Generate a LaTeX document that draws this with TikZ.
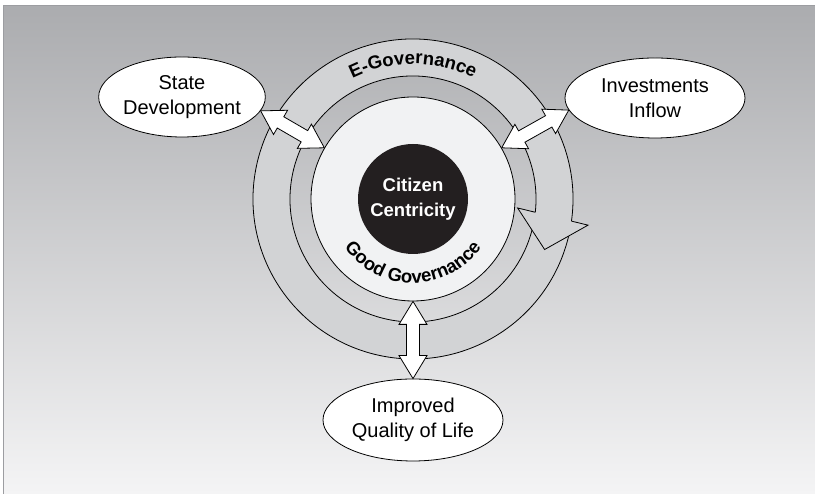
\documentclass[tikz,border=0pt]{standalone}
\usepackage{fontspec}
\setmainfont{Liberation Sans}
\usetikzlibrary{positioning,calc,shapes.geometric,decorations.text}

\definecolor{paneltop}{HTML}{ABACAF}
\definecolor{panelbot}{HTML}{F4F4F5}
\definecolor{paneledge}{HTML}{9C9DA1}
\definecolor{ringgray}{HTML}{D2D3D5}
\definecolor{hubgray}{HTML}{F1F2F3}
\definecolor{coreblack}{HTML}{231F20}

\newcommand{\ringtext}{\bfseries\fontsize{18.5}{20}\selectfont}

% white block arrow with a head at both ends
\newcommand{\twoway}[2]{%
  \filldraw[twoway]
    (#1) -- ($(#1)!23pt!(#2)!14pt!90:(#2)$) -- ($(#1)!23pt!(#2)!6.5pt!90:(#2)$)
    -- ($(#2)!23pt!(#1)!6.5pt!-90:(#1)$) -- ($(#2)!23pt!(#1)!14pt!-90:(#1)$)
    -- (#2) -- ($(#2)!23pt!(#1)!14pt!90:(#1)$) -- ($(#2)!23pt!(#1)!6.5pt!90:(#1)$)
    -- ($(#1)!23pt!(#2)!6.5pt!-90:(#2)$) -- ($(#1)!23pt!(#2)!14pt!-90:(#2)$) -- cycle;}

\tikzset{
  oval/.style={ellipse, draw, fill=white, line width=.8pt, inner sep=0pt,
               align=center, font=\fontsize{20}{25}\selectfont},
  ringline/.style={draw=black, line width=.8pt, line join=miter},
  twoway/.style={fill=white, draw=black, line width=.8pt, line join=miter},
  hub/.style={circle, draw, fill=hubgray, line width=.8pt, inner sep=0pt,
              minimum size=204pt},
  core/.style={circle, fill=coreblack, text=white, inner sep=0pt,
               minimum size=110pt, align=center,
               font=\bfseries\fontsize{18.5}{25}\selectfont}
}

\begin{document}
\begin{tikzpicture}[x=1pt,y=1pt]

  \useasboundingbox (0,0) rectangle (815,494);

  % grey panel
  \shade[top color=paneltop, bottom color=panelbot] (4,0) rectangle (815,488);
  \draw[paneledge, line width=1.3pt] (3.6,0) -- (3.6,488.4) -- (815,488.4);

  \coordinate (c) at (413,295);

  \begin{scope}[shift={(c)}] % e-governance ring arrow
    \filldraw[fill=ringgray, ringline]
      (-10:123) arc[start angle=-10, end angle=348, radius=123]
      -- (348:160) arc[start angle=348, end angle=-10, radius=160] -- cycle;
    \fill[ringgray] (-4.9:105) -- (-21:141) -- (-8.5:177) -- cycle;
    \draw[ringline] (-6.2:123) -- (-4.9:105) -- (-21:141) -- (-8.5:177) -- (-7.95:160);
  \end{scope}

  \node[hub] (hub) at (c) {};
  \node[core] (core) at (c) {Citizen\\Centricity};

  \begin{scope}[shift={(c)}] % texts round the rings
    \path[decorate, decoration={text along path, text align=center,
          text={|\ringtext|E-Governance}}]
      (130:135) arc[start angle=130, end angle=50, radius=135];
    \path[decorate, decoration={text along path, text align=center,
          text={|\ringtext|Good Governance}}]
      (195:84) arc[start angle=195, end angle=345, radius=84];
  \end{scope}

  \node[oval, minimum width=160pt, minimum height=80pt] (state) at (182,397) {State\\Development};
  \node[oval, minimum width=180pt, minimum height=80pt] (invest) at (655,396) {Investments\\Inflow};
  \node[oval, minimum width=180pt, minimum height=82pt] (life) at (413,74) {Improved\\Quality of Life};

  \twoway{state.-10}{hub.150}
  \twoway{invest.188}{hub.30}
  \twoway{hub.270}{life.90}

\end{tikzpicture}
\end{document}
